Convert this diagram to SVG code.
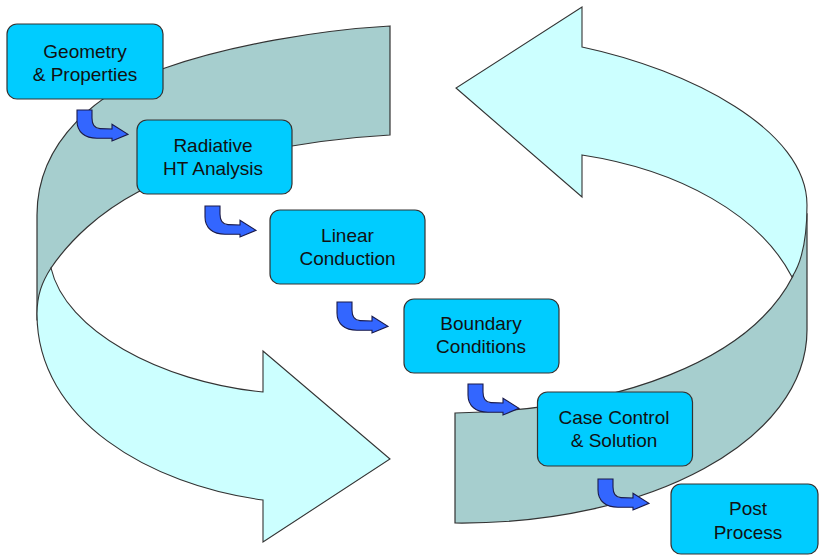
<svg xmlns="http://www.w3.org/2000/svg" width="819" height="556" viewBox="0 0 819 556">
<style>
.dark{fill:#A6CECE;stroke:#333;stroke-width:1.2}
.light{fill:#CCFFFF;stroke:#333;stroke-width:1.1}
.box{fill:#00CCFF;stroke:#333;stroke-width:1.2}
.lbl{font-family:"Liberation Sans",Arial,sans-serif;font-size:19px;fill:#111;text-anchor:middle}
.bend{fill:#3366FF;stroke:#1a1a4a;stroke-width:1.1;stroke-linejoin:miter}
</style>
<defs>
<path id="bend" d="M0,0 H15 V8 C15,15 17,18.5 23,18.6 L35,19 V14.3 L51,24.3 L35,31 V28.3 L20,28.3 C8,28.3 0,22 0,11 Z"/>
</defs>
<rect width="819" height="556" fill="#fff"/>
<g id="cycle-left">
<path class="dark" d="M390,26 L390,135 C300,140 200,160 138,192 C100,212 70,240 51,268 L45,320 L37,320 L37,215 C37,140 100,90 165,68 C230,45 320,30 390,26 Z"/>
<path class="light" d="M51,268 C65,330 160,382 263,392 L263,351 L390,459 L263,542 L263,500 C150,485 37,420 37,314 C37,295 42,282 51,268 Z"/>
</g>
<g id="cycle-right">
<path class="dark" d="M455,413 L455,523 C650,525 807,440 807,330 L807,215 L798,230 L793,276 C750,360 620,410 455,413 Z"/>
<path class="light" d="M582,47 C690,70 807,130 807,205 C807,240 802,262 792,277 C760,215 680,170 582,155 L582,197 L456,88 L582,7 Z"/>
</g>
<g id="node-geometry">
<rect class="box" x="7" y="24" width="156" height="75" rx="10"/>
<text class="lbl" x="85" y="58">Geometry</text>
<text class="lbl" x="85" y="81">&amp; Properties</text>
</g>
<g id="node-radiative">
<rect class="box" x="137" y="120" width="155" height="74" rx="10"/>
<text class="lbl" x="213" y="152">Radiative</text>
<text class="lbl" x="213" y="175">HT Analysis</text>
</g>
<g id="node-linear">
<rect class="box" x="270" y="210" width="155" height="74" rx="10"/>
<text class="lbl" x="347.5" y="242">Linear</text>
<text class="lbl" x="347.5" y="265">Conduction</text>
</g>
<g id="node-boundary">
<rect class="box" x="404" y="299" width="155" height="74" rx="10"/>
<text class="lbl" x="481" y="329.5">Boundary</text>
<text class="lbl" x="481" y="353">Conditions</text>
</g>
<g id="node-casecontrol">
<rect class="box" x="537.5" y="392" width="155" height="74" rx="10"/>
<text class="lbl" x="614" y="423.5">Case Control</text>
<text class="lbl" x="614" y="447">&amp; Solution</text>
</g>
<g id="node-post">
<rect class="box" x="671" y="484" width="147" height="70" rx="10"/>
<text class="lbl" x="748" y="515">Post</text>
<text class="lbl" x="748" y="539">Process</text>
</g>
<g id="connectors">
<use href="#bend" class="bend" x="77" y="110"/>
<use href="#bend" class="bend" x="205" y="206"/>
<use href="#bend" class="bend" x="337" y="302"/>
<use href="#bend" class="bend" x="468" y="384"/>
<use href="#bend" class="bend" x="598" y="479"/>
</g>
</svg>
